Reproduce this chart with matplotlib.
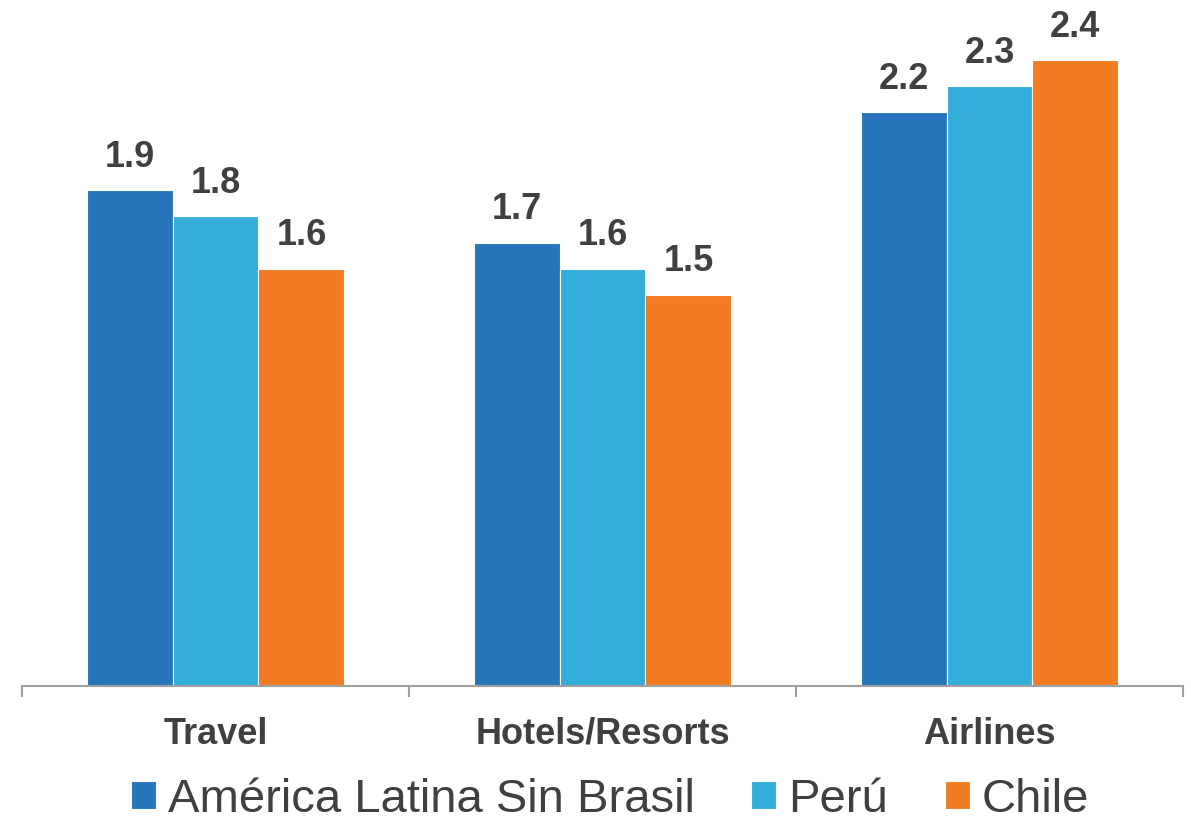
import numpy as np
import matplotlib.pyplot as plt

# Categories and series values
categories = ["Travel", "Hotels/Resorts", "Airlines"]
series_names = ["América Latina Sin Brasil", "Perú", "Chile"]
latam = [1.9, 1.7, 2.2]
peru = [1.8, 1.6, 2.3]
chile = [1.6, 1.5, 2.4]

colors = ["#2775BA", "#34AED8", "#F27C22"]
text_color = "#404040"

plt.rcParams['font.family'] = ['Liberation Sans', 'DejaVu Sans']

fig = plt.figure(figsize=(11.91, 8.22), dpi=100)
ax = fig.add_axes([22 / 1191, (822 - 686) / 822, (1183 - 22) / 1191, 686 / 822])

x = np.arange(len(categories))
width = 0.222

for i, (vals, name) in enumerate(zip([latam, peru, chile], series_names)):
    pos = x + (i - 1) * width
    bars = ax.bar(pos, vals, width, color=colors[i], label=name,
                  edgecolor="white", linewidth=0.8)
    for b, v in zip(bars, vals):
        ax.annotate(f"{v:.1f}", (b.get_x() + b.get_width() / 2, v),
                    xytext=(0, 11), textcoords="offset points",
                    ha="center", va="bottom", fontsize=26, fontweight="bold",
                    color=text_color)

ax.set_xlim(-0.5, 2.5)
ax.set_ylim(0, 2.63)

# group separators as major ticks, category names on minor ticks
ax.set_xticks([-0.5, 0.5, 1.5, 2.5])
ax.set_xticklabels([])
ax.set_xticks(x, minor=True)
ax.set_xticklabels(categories, minor=True, fontsize=26, fontweight="bold",
                   color=text_color)
ax.tick_params(axis="x", which="major", length=11 * 0.72, width=1.5,
               color="#A0A0A0", direction="out")
ax.tick_params(axis="x", which="minor", length=0, pad=22)
ax.set_yticks([])

for s in ["top", "right", "left"]:
    ax.spines[s].set_visible(False)
ax.spines["bottom"].set_color("#A0A0A0")
ax.spines["bottom"].set_linewidth(1.5)

fig.legend(loc="center", bbox_to_anchor=(610 / 1191, 1 - 800 / 822), ncol=3,
           frameon=False, fontsize=34, handlelength=0.53, handleheight=0.53,
           handletextpad=0.25, columnspacing=1.2, labelcolor=text_color,
           borderpad=0, borderaxespad=0)

fig.savefig("out.png", dpi=100, facecolor="white")
